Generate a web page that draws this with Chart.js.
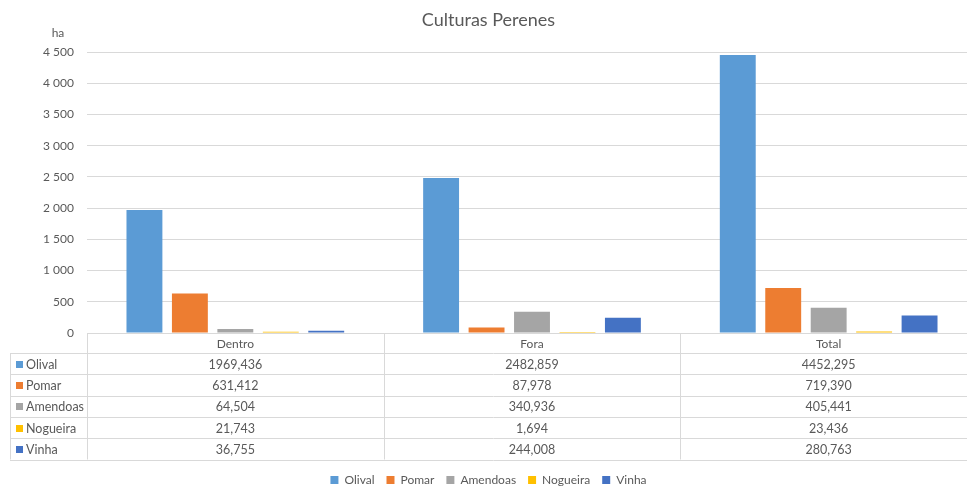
<!DOCTYPE html>
<html>
<head>
<meta charset="utf-8">
<script src="https://cdn.jsdelivr.net/npm/chart.js@4"></script>
<style>
  html, body { margin: 0; padding: 0; background: #fff; }
  #wrap { width: 967px; height: 486px; overflow: hidden; position: relative; }
  canvas { display: block; }
</style>
</head>
<body>
<div id="wrap"><canvas id="chart" width="978" height="496"></canvas></div>
<script>
// ── Data ──────────────────────────────────────────────
const categories = ["Dentro", "Fora", "Total"];
const seriesNames = ["Olival", "Pomar", "Amendoas", "Nogueira", "Vinha"];
const olival   = [1969.436, 2482.859, 4452.295];
const pomar    = [631.412, 87.978, 719.390];
const amendoas = [64.504, 340.936, 405.441];
const nogueira = [21.743, 1.694, 23.436];
const vinha    = [36.755, 244.008, 280.763];
const yTicks   = [0, 500, 1000, 1500, 2000, 2500, 3000, 3500, 4000, 4500];

const seriesValues = [olival, pomar, amendoas, nogueira, vinha];
const colors = ["#5B9BD5", "#ED7D31", "#A5A5A5", "#FFC000", "#4472C4"];

const FONT = "Lato, 'Open Sans', sans-serif";
const TXT = "#595959";
const LINE = "#D9D9D9";

function fmtTick(v) {
  return String(v).replace(/\B(?=(\d{3})+(?!\d))/g, " ");
}
function fmtVal(v) {
  return v.toFixed(3).replace(".", ",");
}

// ── Data table + "ha" label drawn under the plot ──────
const tablePlugin = {
  id: "dataTable",
  afterDraw(chart) {
    const { ctx, chartArea } = chart;
    const xs = chart.scales.x;
    const colW = (chartArea.right - chartArea.left) / categories.length;
    const top = chartArea.bottom;
    const headH = 20;
    const rowH = 21.3;
    const leftX = 10;
    const tableBottom = top + headH + rowH * seriesNames.length;

    ctx.save();
    ctx.strokeStyle = LINE;
    ctx.lineWidth = 1;

    // horizontal lines
    for (let r = 0; r <= seriesNames.length; r++) {
      const y = Math.round(top + headH + r * rowH) + 0.5;
      ctx.beginPath();
      ctx.moveTo(leftX, y);
      ctx.lineTo(chartArea.right, y);
      ctx.stroke();
    }
    // vertical lines
    for (let c = 0; c <= categories.length; c++) {
      const x = Math.round(chartArea.left + c * colW) + 0.5;
      ctx.beginPath();
      ctx.moveTo(x, top);
      ctx.lineTo(x, tableBottom);
      ctx.stroke();
    }
    ctx.beginPath();
    ctx.moveTo(leftX + 0.5, top + headH);
    ctx.lineTo(leftX + 0.5, tableBottom);
    ctx.stroke();

    ctx.font = "12px " + FONT;
    ctx.fillStyle = TXT;
    ctx.textBaseline = "middle";

    // header
    ctx.textAlign = "center";
    categories.forEach((cat, i) => {
      ctx.fillText(cat, xs.getPixelForValue(i), top + headH / 2 + 1);
    });

    // rows
    ctx.font = "12.5px " + FONT;
    seriesNames.forEach((name, r) => {
      const cy = top + headH + r * rowH + rowH / 2 + 1;
      ctx.fillStyle = colors[r];
      ctx.fillRect(16, Math.round(cy - 4), 7, 7);
      ctx.fillStyle = TXT;
      ctx.textAlign = "left";
      ctx.fillText(name, 26, cy);
      ctx.textAlign = "center";
      seriesValues[r].forEach((v, i) => {
        ctx.fillText(fmtVal(v), xs.getPixelForValue(i), cy);
      });
    });

    // axis unit
    ctx.font = "12px " + FONT;
    ctx.textAlign = "center";
    ctx.fillText("ha", 58, 33);
    ctx.restore();
  }
};

// ── Chart ─────────────────────────────────────────────
new Chart(document.getElementById("chart"), {
  type: "bar",
  data: {
    labels: categories,
    datasets: seriesNames.map((name, i) => ({
      label: name,
      data: seriesValues[i],
      backgroundColor: colors[i],
      borderWidth: 0,
      categoryPercentage: 0.766,
      barPercentage: 0.79
    }))
  },
  options: {
    responsive: false,
    animation: false,
    devicePixelRatio: 1,
    layout: { padding: { left: 0, right: 1, top: 0, bottom: 0 } },
    scales: {
      x: {
        grid: { display: false },
        border: { display: false },
        ticks: { display: false },
        afterFit: (s) => { s.height = 129; }
      },
      y: {
        min: 0,
        max: 4500,
        afterBuildTicks: (s) => { s.ticks = yTicks.map(v => ({ value: v })); },
        afterFit: (s) => { s.width = 87; },
        grid: { color: LINE, drawTicks: false },
        border: { display: false },
        ticks: {
          padding: 13,
          color: TXT,
          font: { family: FONT, size: 12 },
          callback: (v) => fmtTick(v)
        }
      }
    },
    plugins: {
      title: {
        display: true,
        text: "Culturas Perenes",
        color: TXT,
        font: { family: FONT, size: 18, weight: "normal" },
        padding: { top: 9, bottom: 21.4 }
      },
      legend: {
        position: "bottom",
        labels: {
          color: TXT,
          font: { family: FONT, size: 12 },
          boxWidth: 8,
          boxHeight: 8,
          padding: 12
        }
      },
      tooltip: { enabled: false }
    }
  },
  plugins: [tablePlugin]
});
</script>
</body>
</html>
